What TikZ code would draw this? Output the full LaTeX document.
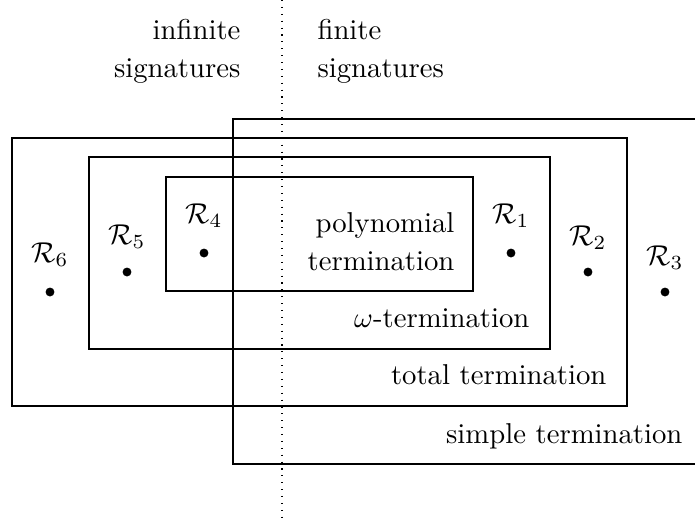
\documentclass[tikz,border=0pt]{standalone}
\usetikzlibrary{calc}
\begin{document}
\begin{tikzpicture}[x=0.3484pt,y=-0.3484pt,
  region/.style={draw,line width=0.4pt},
  dotmark/.style={circle,fill=black,inner sep=0pt,minimum size=3.1pt},
  rlabel/.style={anchor=base,inner sep=0pt},
  tlabel/.style={anchor=base east,inner sep=0pt},
  head/.style={inner sep=0pt,font={\fontsize{10}{13}\selectfont}}]
\useasboundingbox (0,0) rectangle (695,526);
\clip (0,0) rectangle (695,526);
% regions
\draw[region] (233,119) rectangle (705,464);
\draw[region] (12,138) rectangle (627,406);
\draw[region] (89,157) rectangle (550,349);
\draw[region] (166,177) rectangle (473,291);
% dividing line
\coordinate (top) at (282,0);
\coordinate (bot) at (282,522);
\draw[dotted] (top) -- (bot);
% headings (anchor = baseline of the last line)
\node[head,align=right,anchor=base east] (inf) at (241,77) {infinite\\signatures};
\node[head,align=left,anchor=base west] (fin) at (317,77) {finite\\signatures};
% region labels
\node[tlabel] (simple) at (683,443) {simple termination};
\node[tlabel] (total) at (607,384) {total termination};
\node[tlabel] (omega) at (530,327) {$\omega$-termination};
\node[head,align=right,anchor=base east] (poly) at (455,270) {polynomial\\termination};
% points
\node[rlabel] (l6) at (50,262) {$\mathcal{R}_6$};
\node[dotmark] (d6) at (50,292) {};
\node[rlabel] (l5) at (127,244) {$\mathcal{R}_5$};
\node[dotmark] (d5) at (127,272) {};
\node[rlabel] (l4) at (204,223) {$\mathcal{R}_4$};
\node[dotmark] (d4) at (204,253) {};
\node[rlabel] (l1) at (511,223) {$\mathcal{R}_1$};
\node[dotmark] (d1) at (511,253) {};
\node[rlabel] (l2) at (588,245) {$\mathcal{R}_2$};
\node[dotmark] (d2) at (588,272) {};
\node[rlabel] (l3) at (665,265) {$\mathcal{R}_3$};
\node[dotmark] (d3) at (665,292) {};
\end{tikzpicture}
\end{document}
